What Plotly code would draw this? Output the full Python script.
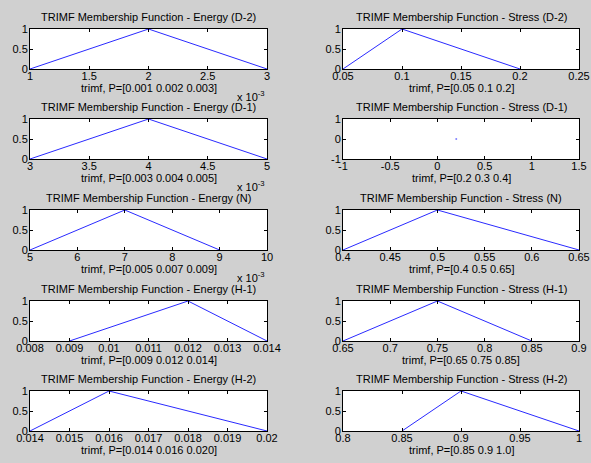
import plotly.graph_objects as go

W, H = 591, 463

# ---- data ----
titles = [
    "TRIMF Membership Function - Energy (D-2)", "TRIMF Membership Function - Stress (D-2)",
    "TRIMF Membership Function - Energy (D-1)", "TRIMF Membership Function - Stress (D-1)",
    "TRIMF Membership Function - Energy (N)", "TRIMF Membership Function - Stress (N)",
    "TRIMF Membership Function - Energy (H-1)", "TRIMF Membership Function - Stress (H-1)",
    "TRIMF Membership Function - Energy (H-2)", "TRIMF Membership Function - Stress (H-2)",
]
params = [
    [0.001, 0.002, 0.003], [0.05, 0.1, 0.2],
    [0.003, 0.004, 0.005], None,
    [0.005, 0.007, 0.009], [0.4, 0.5, 0.65],
    [0.009, 0.012, 0.014], [0.65, 0.75, 0.85],
    [0.014, 0.016, 0.020], [0.85, 0.9, 1.0],
]
memb = [0, 1, 0]
xlabels = [
    "trimf, P=[0.001 0.002 0.003]", "trimf, P=[0.05 0.1 0.2]",
    "trimf, P=[0.003 0.004 0.005]", "trimf, P=[0.2 0.3 0.4]",
    "trimf, P=[0.005 0.007 0.009]", "trimf, P=[0.4 0.5 0.65]",
    "trimf, P=[0.009 0.012 0.014]", "trimf, P=[0.65 0.75 0.85]",
    "trimf, P=[0.014 0.016 0.020]", "trimf, P=[0.85 0.9 1.0]",
]
# degenerate Stress (D-1) plot: single point
d1_point_x = [0.2]
d1_point_y = [0]

scales = [1e3, 1, 1e3, 1, 1e3, 1, 1, 1, 1, 1]
xranges = [[1, 3], [0.05, 0.25], [3, 5], [-1, 1.5], [5, 10], [0.4, 0.65],
           [0.008, 0.014], [0.65, 0.9], [0.014, 0.02], [0.8, 1.0]]
xtickvals = [
    [1, 1.5, 2, 2.5, 3], [0.05, 0.1, 0.15, 0.2, 0.25],
    [3, 3.5, 4, 4.5, 5], [-1, -0.5, 0, 0.5, 1, 1.5],
    [5, 6, 7, 8, 9, 10], [0.4, 0.45, 0.5, 0.55, 0.6, 0.65],
    [0.008, 0.009, 0.01, 0.011, 0.012, 0.013, 0.014], [0.65, 0.7, 0.75, 0.8, 0.85, 0.9],
    [0.014, 0.015, 0.016, 0.017, 0.018, 0.019, 0.02], [0.8, 0.85, 0.9, 0.95, 1],
]
xticktext = [
    ["1", "1.5", "2", "2.5", "3"], ["0.05", "0.1", "0.15", "0.2", "0.25"],
    ["3", "3.5", "4", "4.5", "5"], ["-1", "-0.5", "0", "0.5", "1", "1.5"],
    ["5", "6", "7", "8", "9", "10"], ["0.4", "0.45", "0.5", "0.55", "0.6", "0.65"],
    ["0.008", "0.009", "0.01", "0.011", "0.012", "0.013", "0.014"], ["0.65", "0.7", "0.75", "0.8", "0.85", "0.9"],
    ["0.014", "0.015", "0.016", "0.017", "0.018", "0.019", "0.02"], ["0.8", "0.85", "0.9", "0.95", "1"],
]
exponent_label = "x 10<sup>-3</sup>"

# ---- layout geometry (pixels) ----
col_x = [(30, 267), (343, 579)]
row_y = [(29, 69), (119, 159), (210, 250), (301, 341), (391, 431)]

def fx(px):
    return px / W

def fy(py):
    return 1 - py / H

FONT = "Liberation Sans, Arial, sans-serif"
LINE = "#2a2aff"
BG = "#d0d0d0"

fig = go.Figure()
layout = dict(
    template="none",
    width=W, height=H, margin=dict(l=0, r=0, t=0, b=0, autoexpand=False),
    paper_bgcolor=BG, plot_bgcolor="white", showlegend=False, hovermode=False,
    font=dict(family=FONT, size=11, color="black"),
)
annotations = []

for i in range(10):
    r, c = divmod(i, 2)
    n = i + 1
    xa = "xaxis" if n == 1 else f"xaxis{n}"
    ya = "yaxis" if n == 1 else f"yaxis{n}"
    xref = "x" if n == 1 else f"x{n}"
    yref = "y" if n == 1 else f"y{n}"
    x0, x1 = col_x[c]
    y0, y1 = row_y[r]

    if params[i] is not None:
        xs = [p * scales[i] for p in params[i]]
        fig.add_trace(go.Scatter(x=xs, y=memb, mode="lines", line=dict(color=LINE, width=1),
                                 xaxis=xref, yaxis=yref, hoverinfo="skip"))
        yrange = [0, 1]
        ytv = [0, 0.5, 1]
        ytt = ["0", "0.5", "1"]
    else:
        fig.add_trace(go.Scatter(x=d1_point_x, y=d1_point_y, mode="markers",
                                 marker=dict(color="#8080ff", size=2),
                                 xaxis=xref, yaxis=yref, hoverinfo="skip"))
        yrange = [-1, 1]
        ytv = [-1, 0, 1]
        ytt = ["-1", "0", "1"]

    common = dict(showline=True, linecolor="black", linewidth=1, mirror="ticks",
                  ticks="inside", ticklen=3, tickcolor="black", tickwidth=1,
                  showgrid=False, zeroline=False, fixedrange=True, automargin=False,
                  tickfont=dict(family=FONT, size=11, color="black"))
    layout[xa] = dict(domain=[fx(x0), fx(x1)], anchor=yref, range=xranges[i],
                      tickmode="array", tickvals=xtickvals[i], ticktext=xticktext[i],
                      ticklabelstandoff=-3, **common)
    layout[ya] = dict(domain=[fy(y1), fy(y0)], anchor=xref, range=yrange,
                      tickmode="array", tickvals=ytv, ticktext=ytt,
                      ticklabelstandoff=-1, **common)

    xc = fx((x0 + x1) / 2)
    annotations.append(dict(text=titles[i], x=xc, y=fy(y0 - 12), xref="paper", yref="paper",
                            showarrow=False, xanchor="center", yanchor="middle",
                            font=dict(family=FONT, size=11)))
    annotations.append(dict(text=xlabels[i], x=xc, y=fy(y1 + 19), xref="paper", yref="paper",
                            showarrow=False, xanchor="center", yanchor="middle",
                            font=dict(family=FONT, size=11)))
    if scales[i] != 1:
        annotations.append(dict(text=exponent_label, x=fx(x1), y=fy(y1 + 27), xref="paper", yref="paper",
                                showarrow=False, xanchor="right", yanchor="middle",
                                font=dict(family=FONT, size=11)))

layout["annotations"] = annotations
fig.update_layout(**layout)
fig.write_html("out.html", config={"displayModeBar": False, "staticPlot": True},
               post_script="document.body.style.margin='0';")
